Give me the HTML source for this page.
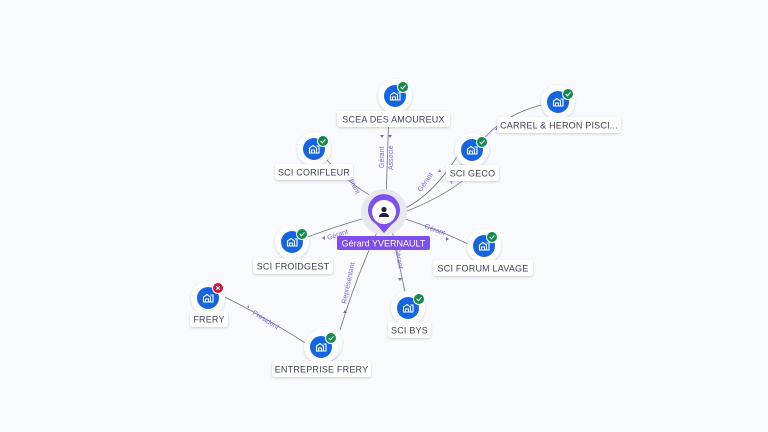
<!DOCTYPE html>
<html><head><meta charset="utf-8"><style>
html,body{margin:0;padding:0;background:#f8fafd;}
svg{display:block;}
.lbl{font-family:"Liberation Sans",sans-serif;font-size:9px;fill:#3a3f55;letter-spacing:0.2px}
.el{font-family:"Liberation Sans",sans-serif;font-size:7px;fill:#7a63e0}
</style></head><body>
<svg width="768" height="432" viewBox="0 0 768 432" xmlns="http://www.w3.org/2000/svg">
<defs>
<filter id="sh" x="-50%" y="-50%" width="200%" height="200%"><feDropShadow dx="0" dy="1" stdDeviation="1.2" flood-color="#000" flood-opacity="0.18"/></filter>
<g id="bld">
 <path d="M-4.5 4 V-1 L-1 -3.5 L2.5 -1 V4 M0.5 4 V1 H-2.5 V4 M2.5 -3 H5 V4 H-5" fill="none" stroke="#fff" stroke-width="1.1"/>
</g>
<g id="ok"><circle r="5.5" fill="#148a4a" stroke="#fff" stroke-width="1"/><path d="M-2.3 0 L-0.6 1.8 L2.5 -1.6" fill="none" stroke="#fff" stroke-width="1.1"/></g>
<g id="ko"><circle r="5.5" fill="#d4143c" stroke="#fff" stroke-width="1"/><path d="M-1.8 -1.8 L1.8 1.8 M1.8 -1.8 L-1.8 1.8" stroke="#fff" stroke-width="1.1"/></g>
</defs>
<rect width="768" height="432" fill="#f8fafd"/>
<g fill="none" stroke="#6b6f80" stroke-width="0.8">
 <path d="M386 200 L389 110"/>
 <path d="M378 200 Q350 185 325 158"/>
 <path d="M396 212 Q430 200 458 155"/>
 <path d="M396 215 Q440 200 470 175"/>
 <path d="M480 144 Q500 115 545 104"/>
 <path d="M372 216 Q330 228 300 240"/>
 <path d="M396 216 Q440 230 470 245"/>
 <path d="M392 230 L405 292"/>
 <path d="M378 230 Q355 280 340 330"/>
 <path d="M225 297 Q270 320 310 346"/>
</g>
<g fill="#7a63e0">
 <path d="M382 138 l-2 -3 h4z"/><path d="M390 138 l-2 -3 h4z"/>
 <path d="M438 172 l2 -3 l1 3z"/><path d="M495 130 l2 -3 l1 3z"/>
 <path d="M322 238 l3 -2 v4z"/><path d="M446 237 l3 2 l-3 2z"/>
 <path d="M345 310 l-2 3 h4z"/><path d="M400 281 l-2 -3 h4z"/>
 <path d="M247 307 l2 -2 v3z"/>
</g>
<text class="el" transform="translate(384,168) rotate(-90)">Gérant</text>
<text class="el" transform="translate(393,170) rotate(-90)">Associé</text>
<text class="el" transform="translate(347,175) rotate(65)">Gérant</text>
<text class="el" transform="translate(421,192) rotate(-55)">Gérant</text>
<text class="el" transform="translate(452,184) rotate(-55)">Associé</text>
<text class="el" transform="translate(328,240) rotate(-18)">Gérant</text>
<text class="el" transform="translate(424,228) rotate(20)">Gérant</text>
<text class="el" transform="translate(395,248) rotate(80)">Gérant</text>
<text class="el" transform="translate(346,304) rotate(-78)">Représentant</text>
<text class="el" transform="translate(252,314) rotate(32)">Président</text>
<circle cx="384" cy="212" r="23" fill="#e6e8ee"/>
<path d="M384 233 L376 224 A16 16 0 1 1 392 224 Z" fill="#7d4ff0"/>
<circle cx="384" cy="212" r="12" fill="#fff"/>
<circle cx="384" cy="209.5" r="2.6" fill="#1f2340"/>
<path d="M379 217 Q379 213 384 213 Q389 213 389 217 Z" fill="#1f2340"/>
<rect x="337" y="236" width="93" height="14" rx="2" fill="#7d4ff0"/>
<text x="383.5" y="246.5" text-anchor="middle" font-family="Liberation Sans,sans-serif" font-size="9" fill="#fff">Gérard YVERNAULT</text>
<g id="nodes">
 <g transform="translate(395,96)"><circle r="17" fill="#fff" filter="url(#sh)"/><circle r="11" fill="#1565e0"/><use href="#bld"/><use href="#ok" x="8" y="-9"/></g>
 <g transform="translate(558,102)"><circle r="17" fill="#fff" filter="url(#sh)"/><circle r="11" fill="#1565e0"/><use href="#bld"/><use href="#ok" x="10" y="-8"/></g>
 <g transform="translate(314,149)"><circle r="17" fill="#fff" filter="url(#sh)"/><circle r="11" fill="#1565e0"/><use href="#bld"/><use href="#ok" x="9" y="-8"/></g>
 <g transform="translate(472,150)"><circle r="17" fill="#fff" filter="url(#sh)"/><circle r="11" fill="#1565e0"/><use href="#bld"/><use href="#ok" x="10" y="-8"/></g>
 <g transform="translate(292,242)"><circle r="17" fill="#fff" filter="url(#sh)"/><circle r="11" fill="#1565e0"/><use href="#bld"/><use href="#ok" x="10" y="-8"/></g>
 <g transform="translate(484,246)"><circle r="17" fill="#fff" filter="url(#sh)"/><circle r="11" fill="#1565e0"/><use href="#bld"/><use href="#ok" x="8" y="-9"/></g>
 <g transform="translate(208,298)"><circle r="17" fill="#fff" filter="url(#sh)"/><circle r="11" fill="#1565e0"/><use href="#bld"/><use href="#ko" x="10" y="-10"/></g>
 <g transform="translate(408,308)"><circle r="17" fill="#fff" filter="url(#sh)"/><circle r="11" fill="#1565e0"/><use href="#bld"/><use href="#ok" x="11" y="-9"/></g>
 <g transform="translate(321,347)"><circle cx="4" cy="-3" r="17" fill="#fff" filter="url(#sh)"/><circle r="17" fill="#fff" filter="url(#sh)"/><circle r="11" fill="#1565e0"/><use href="#bld"/><use href="#ok" x="10" y="-9"/></g>
</g>
<g>
 <rect x="337" y="111" width="113" height="16" rx="3" fill="#fff" filter="url(#sh)"/><text class="lbl" x="393.5" y="122.5" text-anchor="middle">SCEA DES AMOUREUX</text>
 <rect x="497" y="117" width="124" height="16" rx="3" fill="#fff" filter="url(#sh)"/><text class="lbl" x="559" y="128.5" text-anchor="middle">CARREL &amp; HERON PISCI...</text>
 <rect x="275" y="164" width="78" height="16" rx="3" fill="#fff" filter="url(#sh)"/><text class="lbl" x="314" y="175.5" text-anchor="middle">SCI CORIFLEUR</text>
 <rect x="446" y="165" width="53" height="16" rx="3" fill="#fff" filter="url(#sh)"/><text class="lbl" x="472.5" y="176.5" text-anchor="middle">SCI GECO</text>
 <rect x="253" y="258" width="80" height="16" rx="3" fill="#fff" filter="url(#sh)"/><text class="lbl" x="293" y="269.5" text-anchor="middle">SCI FROIDGEST</text>
 <rect x="433" y="260" width="100" height="16" rx="3" fill="#fff" filter="url(#sh)"/><text class="lbl" x="483" y="271.5" text-anchor="middle">SCI FORUM LAVAGE</text>
 <rect x="190" y="311" width="38" height="16" rx="3" fill="#fff" filter="url(#sh)"/><text class="lbl" x="209" y="322.5" text-anchor="middle">FRERY</text>
 <rect x="388" y="322" width="43" height="16" rx="3" fill="#fff" filter="url(#sh)"/><text class="lbl" x="409.5" y="333.5" text-anchor="middle">SCI BYS</text>
 <rect x="272" y="361" width="99" height="16" rx="3" fill="#fff" filter="url(#sh)"/><text class="lbl" x="321.5" y="372.5" text-anchor="middle">ENTREPRISE FRERY</text>
</g>
</svg>
</body></html>
